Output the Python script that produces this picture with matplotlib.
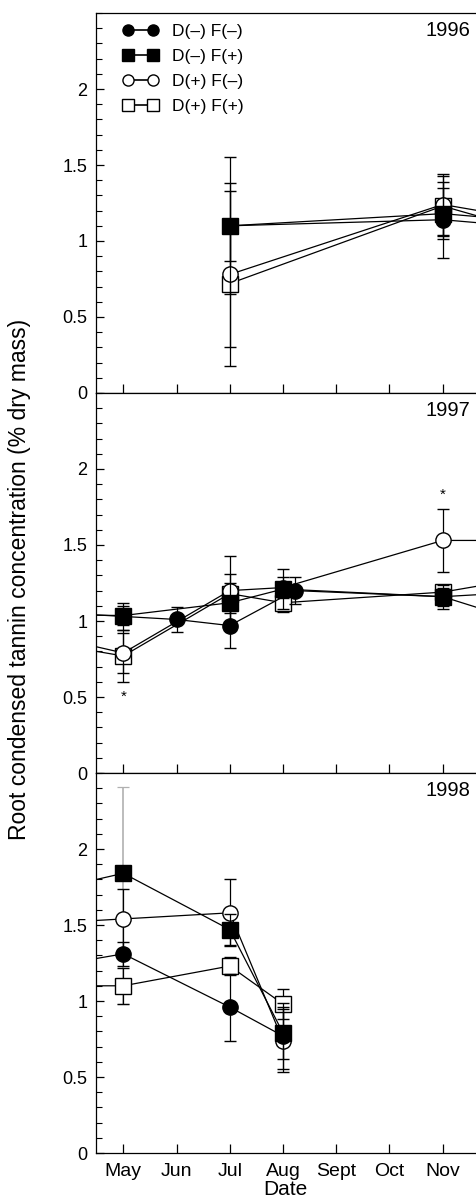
import matplotlib
matplotlib.use("Agg")
import matplotlib.pyplot as plt
from matplotlib.ticker import MultipleLocator, FormatStrFormatter
from matplotlib.lines import Line2D
import numpy as np

plt.rcParams['font.family'] = ['Liberation Sans', 'DejaVu Sans']

nan = np.nan

# month positions: Apr=-1, May=0 ... Nov=6, Dec=7
months = ["May", "Jun", "Jul", "Aug", "Sept", "Oct", "Nov"]
labels = ["D(\u2013) F(\u2013)", "D(\u2013) F(+)", "D(+) F(\u2013)", "D(+) F(+)"]
years = ["1996", "1997", "1998"]

# 1996
x_1996 = [[2, 6, 7], [2, 6, 7], [2, 6, 7], [2, 6, 7]]
y_1996 = [[1.10, 1.14, 1.11],
          [1.10, 1.18, 1.15],
          [0.78, 1.24, 1.18],
          [0.72, 1.23, 1.13]]
e_1996 = [[0.45, 0.25, nan],
          [0.23, 0.17, nan],
          [0.60, 0.20, nan],
          [0.42, 0.20, nan]]

# 1997
x_1997 = [[-1, 0, 1, 2, 3.22, 6, 7],
          [-1, 0, 2, 3, 6, 7],
          [-1, 0, 2, 3, 6, 7],
          [-1, 0, 2, 3, 6, 7]]
y_1997 = [[1.05, 1.03, 1.01, 0.97, 1.20, 1.16, 1.05],
          [1.04, 1.036, 1.12, 1.21, 1.16, 1.18],
          [0.87, 0.79, 1.20, 1.22, 1.53, 1.53],
          [0.83, 0.77, 1.18, 1.12, 1.19, 1.25]]
e_1997 = [[nan, 0.09, 0.08, 0.15, 0.09, 0.06, nan],
          [nan, 0.06, 0.13, 0.13, 0.08, nan],
          [nan, 0.13, 0.23, 0.07, 0.21, nan],
          [nan, 0.17, 0.13, 0.06, 0.05, nan]]
star_1997 = [(0, 0.50), (6, 1.83)]

# 1998
x_1998 = [[-1, 0, 2, 3], [-1, 0, 2, 3], [-1, 0, 2, 3], [-1, 0, 2, 3]]
y_1998 = [[1.25, 1.31, 0.96, 0.77],
          [1.76, 1.84, 1.47, 0.79],
          [1.52, 1.54, 1.58, 0.74],
          [1.10, 1.10, 1.23, 0.98]]
e_1998 = [[nan, 0.08, 0.22, 0.22],
          [nan, nan, 0.10, 0.17],
          [nan, 0.20, 0.22, 0.21],
          [nan, 0.12, 0.06, 0.10]]
# long grey bar at May 1998, D(-) F(+): lower / upper error
grey_1998_lo = [0.86]
grey_1998_hi = [0.57]

xs = [x_1996, x_1997, x_1998]
ys = [y_1996, y_1997, y_1998]
es = [e_1996, e_1997, e_1998]

markers = ['o', 's', 'o', 's']
fills = ['black', 'black', 'white', 'white']
zorders = [5, 6, 4, 3]  # filled markers sit on top of open ones

W, H = 476, 1202
fig = plt.figure(figsize=(W / 100, H / 100), dpi=100)

left = 95.5 / W
top_px = 13
panel_px = 380
axes = []
for i in range(3):
    b = 1 - (top_px + panel_px * (i + 1)) / H
    ax = fig.add_axes([left, b, 1 - left, panel_px / H])
    axes.append(ax)

for i, ax in enumerate(axes):
    for k in range(4):
        ax.errorbar(xs[i][k], ys[i][k], yerr=es[i][k], fmt=markers[k] + '-',
                    color='black', mfc=fills[k], mec='black', ms=11, mew=1.0,
                    lw=0.9, elinewidth=0.9, capsize=4.5, capthick=0.9,
                    zorder=zorders[k])
    ax.set_xlim(-0.522, 6.626)
    ax.set_ylim(0, 2.5)
    ax.set_yticks([0, 0.5, 1, 1.5, 2])
    ax.yaxis.set_minor_locator(MultipleLocator(0.1))
    ax.yaxis.set_major_formatter(FormatStrFormatter('%g'))
    ax.set_xticks(range(len(months)))
    ax.tick_params(axis='y', which='major', direction='in', length=6,
                   width=0.9, labelsize=13, pad=6)
    ax.tick_params(axis='y', which='minor', direction='in', length=4.5,
                   width=0.8)
    ax.tick_params(axis='x', which='major', direction='in', length=6.5,
                   width=0.9, labelsize=14, pad=7)
    ax.spines['right'].set_visible(False)
    for s in ['left', 'top', 'bottom']:
        ax.spines[s].set_linewidth(0.9)
    ax.text(0.984, 0.955, years[i], transform=ax.transAxes, ha='right',
            va='center', fontsize=14.5)
    if i < 2:
        ax.set_xticklabels([])
    else:
        ax.set_xticklabels(months)
        ax.set_xlabel("Date", fontsize=15, labelpad=0)

# grey bar, 1998 May
axes[2].errorbar([0], [y_1998[1][1]], yerr=[grey_1998_lo, grey_1998_hi],
                 fmt='none', ecolor='#b0b0b0', elinewidth=1.2, capsize=4.5,
                 capthick=0.9, zorder=2)

for (sx, sy) in star_1997:
    axes[1].text(sx, sy, "*", ha='center', va='center', fontsize=11)

handles = [Line2D([0], [0], marker=markers[k], color='black', mfc=fills[k],
                  mec='black', ms=8, lw=1.2) for k in range(4)]
axes[0].legend(handles, labels, loc='upper left', bbox_to_anchor=(0.072, 0.971),
               frameon=False, numpoints=2, handlelength=2.03,
               handletextpad=0.8, labelspacing=0.56, borderpad=0,
               borderaxespad=0, fontsize=12.5)

fig.text(20 / W, 1 - 579 / H, "Root condensed tannin concentration (% dry mass)",
         rotation=90, ha='center', va='center', fontsize=16.5)

fig.savefig("out.png", dpi=100)
